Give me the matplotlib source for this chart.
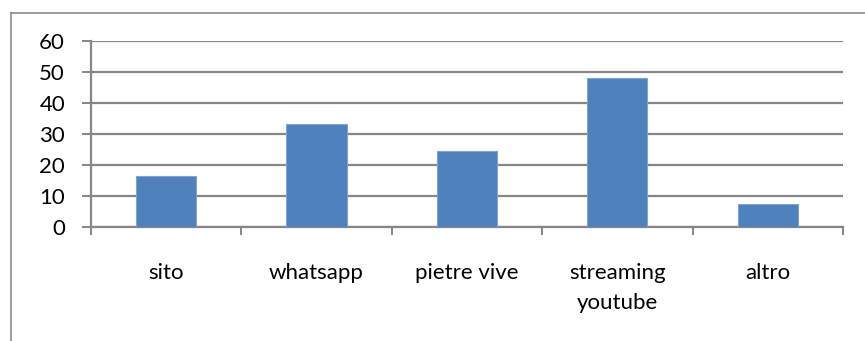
import matplotlib.pyplot as plt
from matplotlib.lines import Line2D

# dati
categorie = ["sito", "whatsapp", "pietre vive", "streaming\nyoutube", "altro"]
valori = [16.3, 33.2, 24.3, 48.0, 7.3]
y_ticks = [0, 10, 20, 30, 40, 50, 60]

plt.rcParams['font.family'] = ['Lato', 'DejaVu Sans']

fig = plt.figure(figsize=(8.65, 3.41), dpi=100)
ax = fig.add_axes([0.1049, 0.3352, 0.8697, 0.5446])

x = list(range(len(categorie)))
ax.bar(x, valori, width=0.4, color='#4F81BD', edgecolor='#7FA3D4', linewidth=0.8, zorder=3)

ax.set_xlim(-0.5, len(categorie) - 0.5)
ax.set_ylim(0, 60)
ax.set_yticks(y_ticks)
ax.yaxis.grid(True, color='#868686', linewidth=1.6, zorder=0)

# etichette categorie centrate, tacche ai bordi delle categorie
ax.set_xticks(x)
ax.set_xticklabels(categorie, linespacing=1.62)
ax.set_xticks([i - 0.5 for i in range(len(categorie) + 1)], minor=True)
ax.tick_params(axis='x', which='major', length=0, pad=26, labelsize=16)
ax.tick_params(axis='x', which='minor', length=5.5, width=1.4, color='#868686', direction='out')
ax.tick_params(axis='y', length=6.5, width=1.4, color='#868686', pad=12, labelsize=16)

for s in ['top', 'right']:
    ax.spines[s].set_visible(False)
ax.spines['left'].set_color('#868686')
ax.spines['left'].set_linewidth(1.6)
ax.spines['bottom'].set_color('#868686')
ax.spines['bottom'].set_linewidth(1.6)

# cornice del grafico (solo sinistra e sopra)
fig.add_artist(Line2D([10.5 / 865, 10.5 / 865], [0, 1 - 13 / 341], color='#8c8c8c', linewidth=1.2))
fig.add_artist(Line2D([10.5 / 865, 1], [1 - 13 / 341, 1 - 13 / 341], color='#8c8c8c', linewidth=1.2))

fig.savefig('out.png', dpi=100)
